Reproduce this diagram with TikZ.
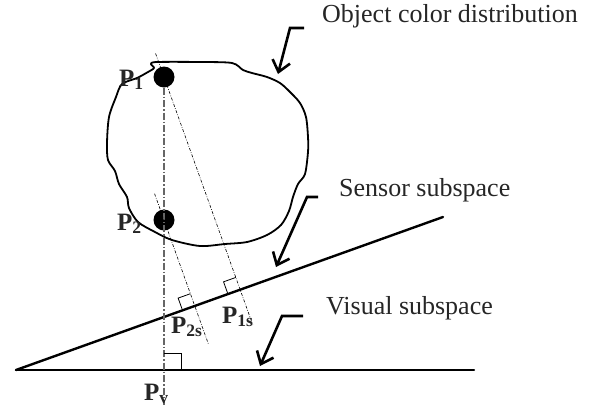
\documentclass[tikz,border=0pt]{standalone}
\usepackage{fontspec}
\setmainfont{Liberation Serif}
\usetikzlibrary{calc, arrows.meta}

\begin{document}
\begin{tikzpicture}[x=1pt, y=-1pt,
    captext/.style={font=\fontsize{26}{30}\selectfont, anchor=base west,
                inner sep=0pt, text=black!85},
    plab/.style={font=\fontsize{25}{28}\selectfont\bfseries, anchor=base west,
                 inner sep=0pt, text=black!85},
    dot/.style={circle, fill=black, inner sep=0pt, minimum size=21pt},
    sub/.style={line width=2.4pt, line cap=round},
    pointer/.style={line width=2.6pt, -{Straight Barb[length=11pt, width=18pt]}},
    proj/.style={line width=0.6pt, dash pattern=on 3pt off 1.5pt on 0.7pt off 1.5pt},
    vproj/.style={line width=1.3pt, black!60, dash pattern=on 7pt off 2pt on 1.5pt off 2pt},
    rmark/.style={line width=0.8pt}
]
\useasboundingbox (0,0) rectangle (595,408);

% the two subspaces
\coordinate (o) at (16,370);
\coordinate (sEnd) at (443,217);
\coordinate (vEnd) at (474,370);
\draw[sub] (o) -- (sEnd);
\draw[sub] (o) -- (vEnd);

% object colour blob
\draw[line width=1.8pt, line join=round] plot[smooth cycle, tension=0.5] coordinates {
    (157,62) (200,62) (232,63) (243,70) (252,73) (267,77) (280,83) (290,92)
    (300,103) (306,117) (308,137) (308,152) (305,174) (298,184) (293,197)
    (289,211) (281,225) (267,235) (247,242) (225,244) (200,246) (172,240)
    (155,232) (138,222) (129,208) (127,197) (119,184) (115,171) (108,160)
    (107,143) (109,117) (116,97) (122,84) (137,78) (148,72) (154,68) (151,64)};

% colour points
\node[dot] (p1) at (164,77) {};
\node[dot] (p2) at (164,220) {};

% projections
\coordinate (p1s) at ($(o)!(p1)!(sEnd)$);
\coordinate (p2s) at ($(o)!(p2)!(sEnd)$);
\coordinate (pv) at ($(o)!(p1)!(vEnd)$);
\draw[vproj] (p1.south) -- ($(p1)!1.12!(pv)$);
\draw[proj] ($(p1)!-25pt!(p1s)$) -- ($(p1)!1.166!(p1s)$);
\draw[proj] ($(p2)!-28pt!(p2s)$) -- ($(p2)!1.44!(p2s)$);

% right angle marks
\coordinate (m1a) at ($(p1s)!13pt!(o)$);
\coordinate (m1b) at ($(p1s)!13pt!(p1)$);
\draw[rmark] (m1a) -- ($(m1a)+(m1b)-(p1s)$) -- (m1b);
\coordinate (m2a) at ($(p2s)!13pt!(o)$);
\coordinate (m2b) at ($(p2s)!13pt!(p2)$);
\draw[rmark] (m2a) -- ($(m2a)+(m2b)-(p2s)$) -- (m2b);
\coordinate (mva) at ($(pv)!17pt!(vEnd)$);
\coordinate (mvb) at ($(pv)!17pt!(p1)$);
\draw[rmark] (mva) -- ($(mva)+(mvb)-(pv)$) -- (mvb);

% point labels
\node[plab] (l1) at (119,86) {P\textsubscript{1}};
\node[plab] (l2) at (117,230) {P\textsubscript{2}};
\node[plab] (l2s) at (171,333) {P\textsubscript{2s}};
\node[plab] (l1s) at (222,323) {P\textsubscript{1s}};
\node[plab] (lv) at (144,400) {P\textsubscript{v}};

% captions and pointers
\node[captext] (objcap) at (322,22) {Object color distribution};
\node[captext] (sencap) at (339,196) {Sensor subspace};
\node[captext] (viscap) at (326,314) {Visual subspace};

\coordinate (objA) at (304,28);
\coordinate (objB) at (290,28);
\coordinate (objC) at (278,74);
\draw[pointer] (objA) -- (objB) -- (objC);
\coordinate (senA) at (318,197);
\coordinate (senB) at (307,197);
\coordinate (senC) at (276,267);
\draw[pointer] (senA) -- (senB) -- (senC);
\coordinate (visA) at (303,316);
\coordinate (visB) at (282,316);
\coordinate (visC) at (260,366);
\draw[pointer] (visA) -- (visB) -- (visC);
\end{tikzpicture}
\end{document}
